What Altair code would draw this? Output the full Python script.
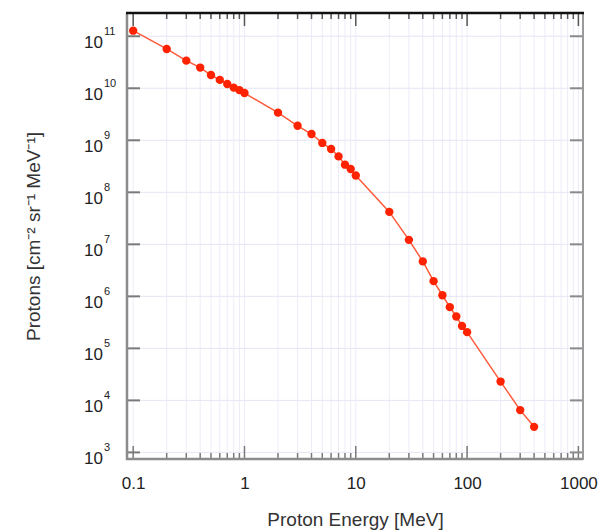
import altair as alt
import pandas as pd

# Differential proton spectrum
energy_mev = [0.1, 0.2, 0.3, 0.4, 0.5, 0.6, 0.7, 0.8, 0.9, 1.0,
              2, 3, 4, 5, 6, 7, 8, 9, 10,
              20, 30, 40, 50, 60, 70, 80, 90, 100,
              200, 300, 400]
protons = [1.28e11, 5.7e10, 3.4e10, 2.5e10, 1.8e10, 1.45e10, 1.21e10, 1.03e10, 9.2e9, 8.1e9,
           3.4e9, 1.9e9, 1.32e9, 8.9e8, 6.8e8, 4.9e8, 3.4e8, 2.8e8, 2.1e8,
           4.2e7, 1.22e7, 4.7e6, 1.96e6, 1.05e6, 6.2e5, 4.1e5, 2.7e5, 2.05e5,
           2.3e4, 6.5e3, 3.1e3]

# Axis structure
x_major = [0.1, 1, 10, 100, 1000]
x_minor = [0.2, 0.3, 0.4, 0.5, 0.6, 0.7, 0.8, 0.9,
           2, 3, 4, 5, 6, 7, 8, 9,
           20, 30, 40, 50, 60, 70, 80, 90,
           200, 300, 400, 500, 600, 700, 800, 900]
y_major = [1e3, 1e4, 1e5, 1e6, 1e7, 1e8, 1e9, 1e10, 1e11]
y_exponents = ["3", "4", "5", "6", "7", "8", "9", "10", "11"]

W, H = 456, 446
FONT = "Liberation Sans"

xs = alt.Scale(type="log", domain=[0.088, 1100], nice=False)
ys = alt.Scale(type="log", domain=[747, 2.8e11], nice=False)

X_AXIS = alt.Axis(values=x_major, labelExpr="format(datum.value, '~g')",
                  ticks=False, tickSize=0, domain=False, grid=False,
                  labelFont=FONT, labelFontSize=17, labelColor="#222222",
                  labelPadding=16, labelFlush=False,
                  title="Proton Energy [MeV]", titleFont=FONT, titleFontSize=19,
                  titleFontWeight="normal", titleColor="#333333", titlePadding=19)
Y_AXIS = alt.Axis(labels=False, ticks=False, tickSize=0, domain=False, grid=False,
                  title="Protons [cm⁻² sr⁻¹ MeV⁻¹]", titleFont=FONT, titleFontSize=19,
                  titleFontWeight="normal", titleColor="#333333", titlePadding=84)

spec = pd.DataFrame({"energy": energy_mev, "protons": protons})
xmaj = pd.DataFrame({"energy": x_major})
xmin = pd.DataFrame({"energy": x_minor})
xall = pd.DataFrame({"energy": x_major + x_minor})
ymaj = pd.DataFrame({"protons": y_major, "exp": y_exponents})
one = pd.DataFrame({"k": [0]})

X = alt.X("energy:Q", scale=xs, axis=X_AXIS)
Y = alt.Y("protons:Q", scale=ys, axis=Y_AXIS)

# light grid
grid_x = alt.Chart(xall).mark_rule(color="#ececf8", strokeWidth=1).encode(
    x=X, y=alt.value(0), y2=alt.value(H))
grid_y = alt.Chart(ymaj).mark_rule(color="#e6e6f4", strokeWidth=1).encode(
    y=Y, x=alt.value(0), x2=alt.value(W))

# frame
left = alt.Chart(one).mark_rule(color="#8c8c8c", strokeWidth=2.5).encode(
    x=alt.value(0), y=alt.value(0), y2=alt.value(H + 1))
bottom = alt.Chart(one).mark_rule(color="#8c8c8c", strokeWidth=2.5).encode(
    y=alt.value(H), x=alt.value(-1), x2=alt.value(W))
right = alt.Chart(one).mark_rule(color="#9a9a9a", strokeWidth=2).encode(
    x=alt.value(W), y=alt.value(0), y2=alt.value(H + 1))
top = alt.Chart(one).mark_rule(color="#111111", strokeWidth=2.5).encode(
    y=alt.value(0), x=alt.value(-1), x2=alt.value(W + 1))

# inward ticks
tick_bot_maj = alt.Chart(xmaj).mark_rule(color="#7a7a7a", strokeWidth=1.5).encode(
    x=X, y=alt.value(H), y2=alt.value(H - 13))
tick_bot_min = alt.Chart(xmin).mark_rule(color="#7a7a7a", strokeWidth=1.5).encode(
    x=X, y=alt.value(H), y2=alt.value(H - 6))
tick_top_maj = alt.Chart(xmaj).mark_rule(color="#555555", strokeWidth=1.5).encode(
    x=X, y=alt.value(0), y2=alt.value(13))
tick_top_min = alt.Chart(xmin).mark_rule(color="#555555", strokeWidth=1.5).encode(
    x=X, y=alt.value(0), y2=alt.value(6))
tick_left = alt.Chart(ymaj).mark_rule(color="#7a7a7a", strokeWidth=2).encode(
    y=Y, x=alt.value(0), x2=alt.value(13))
tick_right = alt.Chart(ymaj).mark_rule(color="#8a8a8a", strokeWidth=2).encode(
    y=Y, x=alt.value(W), x2=alt.value(W - 13))

# power-of-ten labels on the y axis
ylab_base = alt.Chart(ymaj).mark_text(
    align="right", baseline="alphabetic", font=FONT, fontSize=17, color="#222222", dy=12
).encode(y=Y, x=alt.value(-24), text=alt.value("10"))
ylab_exp = alt.Chart(ymaj).mark_text(
    align="left", baseline="alphabetic", font=FONT, fontSize=11, color="#222222", dy=-1
).encode(y=Y, x=alt.value(-23), text="exp:N")

# spectrum
line = alt.Chart(spec).mark_line(color="#ff5a3a", strokeWidth=1.5).encode(x=X, y=Y)
pts = alt.Chart(spec).mark_circle(size=70, color="#ff2200", opacity=1).encode(x=X, y=Y)

chart = alt.layer(
    grid_x, grid_y,
    tick_bot_maj, tick_bot_min, tick_top_maj, tick_top_min, tick_left, tick_right,
    left, bottom, right, top,
    ylab_base, ylab_exp,
    line, pts,
).properties(
    width=W, height=H,
    autosize=alt.AutoSizeParams(type="none"),
    padding={"left": 127, "top": 13, "right": 25, "bottom": 71},
    background="white",
).configure_view(stroke=None)

chart.save("out.html", embed_options={"renderer": "svg", "actions": False})
